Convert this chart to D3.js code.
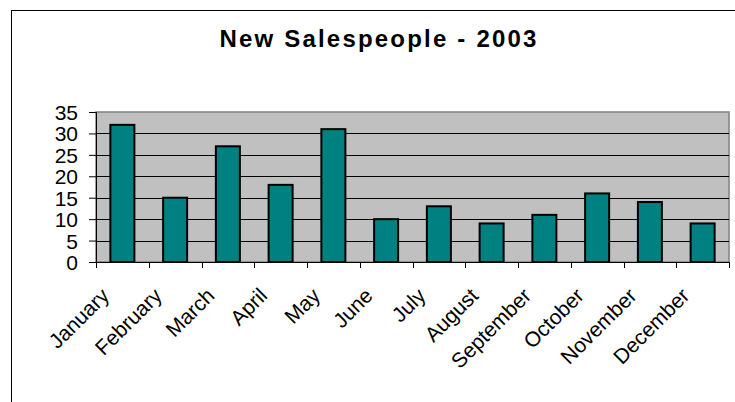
<!DOCTYPE html>
<html>
<head>
<meta charset="utf-8">
<script src="https://cdn.jsdelivr.net/npm/d3@7"></script>
<style>
  html, body { margin: 0; padding: 0; background: #fff; }
  svg { display: block; }
  text { font-family: Arial, "Liberation Sans", sans-serif; }
</style>
</head>
<body>
<svg id="chart" width="735" height="402"></svg>
<script>
const title = "New Salespeople - 2003";
const months = ["January","February","March","April","May","June","July","August","September","October","November","December"];
const salespeople = [32, 15, 27, 18, 31, 10, 13, 9, 11, 16, 14, 9];
const yTicks = [0, 5, 10, 15, 20, 25, 30, 35];

const svg = d3.select("#chart");
const plot = { left: 96, right: 729, top: 112, bottom: 262 };

// outer chart frame
svg.append("rect")
  .attr("x", 11.5).attr("y", 10.5)
  .attr("width", 740).attr("height", 420)
  .attr("fill", "#fff").attr("stroke", "#000").attr("stroke-width", 1);

// title
svg.append("text")
  .attr("x", 379).attr("y", 47)
  .attr("text-anchor", "middle")
  .attr("font-size", 24).attr("font-weight", "bold")
  .attr("letter-spacing", 2.2)
  .attr("fill", "#000")
  .text(title);

const x = d3.scaleBand().domain(months).range([plot.left, plot.right]).paddingInner(0.545).paddingOuter(0.2725);
const y = d3.scaleLinear().domain([0, 35]).range([plot.bottom, plot.top]);

// plot area background
svg.append("rect")
  .attr("x", plot.left).attr("y", plot.top)
  .attr("width", plot.right - plot.left).attr("height", plot.bottom - plot.top)
  .attr("fill", "#c0c0c0").attr("stroke", "#808080").attr("stroke-width", 1.5);

// gridlines
svg.append("g").selectAll("line")
  .data(yTicks.filter(d => d > 0 && d < 35))
  .join("line")
  .attr("x1", plot.left).attr("x2", plot.right)
  .attr("y1", d => Math.round(y(d)) + 0.5).attr("y2", d => Math.round(y(d)) + 0.5)
  .attr("stroke", "#000").attr("stroke-width", 1);

// bars
svg.append("g").selectAll("rect")
  .data(months)
  .join("rect")
  .attr("x", d => x(d))
  .attr("y", (d, i) => y(salespeople[i]))
  .attr("width", x.bandwidth())
  .attr("height", (d, i) => y(0) - y(salespeople[i]))
  .attr("fill", "#008080").attr("stroke", "#000").attr("stroke-width", 2);

// y axis
const yAxis = d3.axisLeft(y).tickValues(yTicks).tickSize(7).tickPadding(11);
const gy = svg.append("g").attr("transform", `translate(${plot.left},0)`).call(yAxis);
gy.select(".domain").attr("stroke", "#000").attr("stroke-width", 1);
gy.selectAll(".tick line").attr("stroke", "#000");
gy.selectAll(".tick text").attr("font-size", 21).attr("font-family", "Arial, 'Liberation Sans', sans-serif").attr("fill", "#000").attr("dy", "0.36em");

// x axis with ticks on category boundaries
const boundary = d3.scaleLinear().domain([0, months.length]).range([plot.left, plot.right]);
const gx = svg.append("g");
gx.append("line")
  .attr("x1", plot.left).attr("x2", plot.right)
  .attr("y1", plot.bottom + 0.5).attr("y2", plot.bottom + 0.5)
  .attr("stroke", "#000").attr("stroke-width", 1.2);
gx.selectAll("line.tk")
  .data(d3.range(months.length + 1))
  .join("line").attr("class", "tk")
  .attr("x1", d => Math.round(boundary(d)) + 0.5).attr("x2", d => Math.round(boundary(d)) + 0.5)
  .attr("y1", plot.bottom).attr("y2", plot.bottom + 6)
  .attr("stroke", "#000");

gx.selectAll("text")
  .data(months)
  .join("text")
  .attr("text-anchor", "end")
  .attr("font-size", 21)
  .attr("fill", "#000")
  .attr("transform", d => `translate(${x(d) + x.bandwidth() / 2 - 12},297) rotate(-45)`)
  .text(d => d);
</script>
</body>
</html>
